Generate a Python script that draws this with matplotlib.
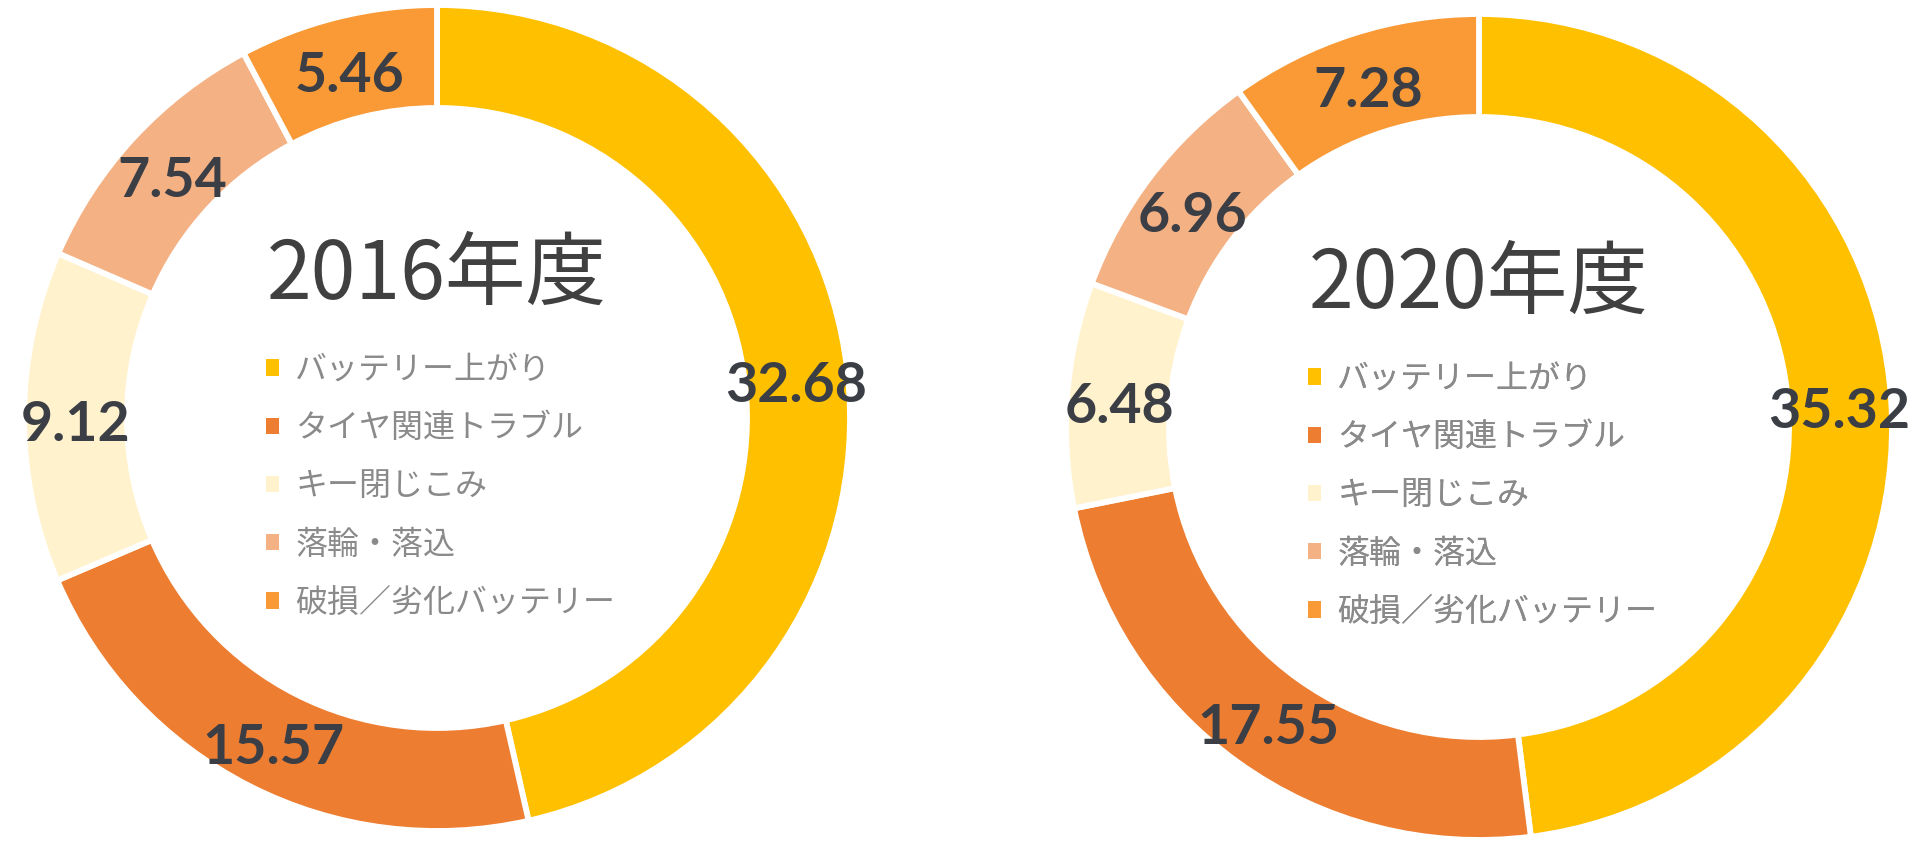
import matplotlib.pyplot as plt

categories = ['バッテリー上がり', 'タイヤ関連トラブル', 'キー閉じこみ', '落輪・落込', '破損／劣化バッテリー']
values_2016 = [32.68, 15.57, 9.12, 7.54, 5.46]
values_2020 = [35.32, 17.55, 6.48, 6.96, 7.28]
titles = ['2016年度', '2020年度']

colors = ['#FFC000', '#ED7D31', '#FFF2CC', '#F4B183', '#FA9A36']

W, H = 1920, 863
fig = plt.figure(figsize=(W / 100, H / 100), dpi=100)
ax = fig.add_axes([0, 0, 1, 1])

# donut centres / sizes in pixels (y measured from the bottom)
donuts = [
    dict(vals=values_2016, title=titles[0], cx=437, cy=H - 418),
    dict(vals=values_2020, title=titles[1], cx=1479, cy=H - 427),
]
R = 413
ring = 103

for d in donuts:
    total = sum(d['vals'])
    wedges, _, autotexts = ax.pie(
        d['vals'], colors=colors, startangle=90, counterclock=False,
        radius=R, center=(d['cx'], d['cy']),
        wedgeprops=dict(width=ring, edgecolor='white', linewidth=4.2),
        autopct=lambda p, t=total: f'{p * t / 100:.2f}', pctdistance=0.874)
    for t in autotexts:
        t.set_fontfamily('Lato')
        t.set_fontweight('bold')
        t.set_fontsize(40)
        t.set_color('#3B3E45')
        x, y = t.get_position()
        t.set_position((x, y - 8))

    ax.text(d['cx'], d['cy'] + 142, d['title'], ha='center', va='center',
            fontsize=58, color='#404040', family=['Noto Sans CJK JP', 'DejaVu Sans'])

    leg = ax.legend(wedges, categories, loc='upper left',
                    bbox_to_anchor=(d['cx'] - 171, d['cy'] + 64),
                    bbox_transform=ax.transData, frameon=False,
                    prop=dict(family=['Noto Sans CJK JP', 'DejaVu Sans'], size=23),
                    labelcolor='#8A8A8A', handlelength=0.42, handleheight=0.42,
                    handletextpad=0.5, labelspacing=0.82, borderpad=0,
                    borderaxespad=0)
    for h in leg.legend_handles:
        h.set_edgecolor('none')
    ax.add_artist(leg)

ax.set_xlim(0, W)
ax.set_ylim(0, H)
ax.set_aspect('equal')
ax.axis('off')

fig.savefig('out.png', dpi=100, facecolor='white')
